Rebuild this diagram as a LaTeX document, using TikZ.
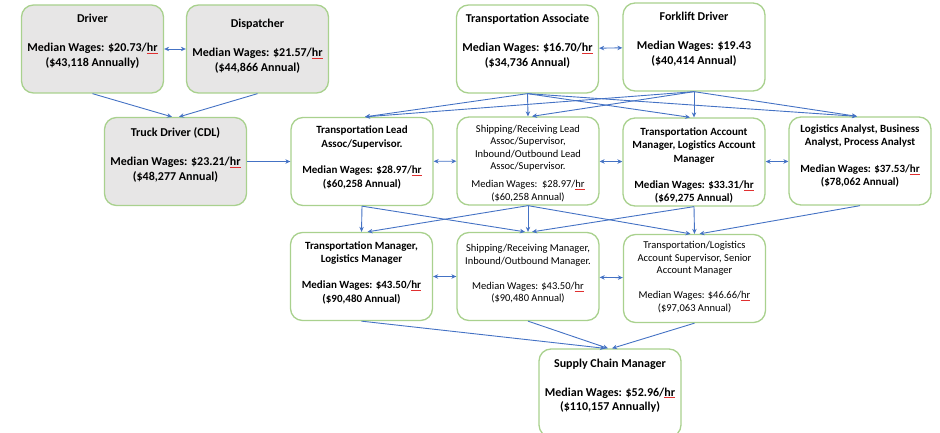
\documentclass[tikz,border=0pt]{standalone}
\usepackage{fontspec}
\setmainfont{Carlito}
\usetikzlibrary{arrows.meta}
\definecolor{boxgreen}{HTML}{A9D18E}
\definecolor{boxgray}{HTML}{E7E6E6}
\definecolor{linkblue}{HTML}{4472C4}
\definecolor{squig}{HTML}{E03030}
\newcommand\bigjob{\fontsize{12}{14.5}\selectfont\bfseries}
\newcommand\midjob{\fontsize{11}{13.3}\selectfont\bfseries}
\newcommand\smalljob{\fontsize{10.5}{12.5}\selectfont}
\newcommand\jobtext[2]{\parbox[c][88pt][t]{142pt}{\centering\rule{0pt}{#1}#2}}
\newcommand\hrmark{\sbox0{hr}\rlap{\textcolor{squig}{\rule[-2pt]{\wd0}{0.6pt}}}\usebox0}
\begin{document}
\begin{tikzpicture}[x=1pt,y=-1pt,
  job/.style={draw=boxgreen, line width=1.3pt, rounded corners=12pt, fill=white, inner sep=0pt, font=\midjob},
  grayjob/.style={job, fill=boxgray},
  link/.style={draw=linkblue, line width=0.9pt, -{Stealth[length=5pt,width=4.5pt]}},
  twoway/.style={link, {Stealth[length=5pt,width=4.5pt]}-{Stealth[length=5pt,width=4.5pt]}}]
\useasboundingbox (0,0) rectangle (940,433);
\node[grayjob, font=\bigjob] (jid0) at (92.5,49){\jobtext{18pt}{Driver\\[14.5pt]Median Wages: \$20.73/\hrmark\\(\$43,118 Annually)}};
\node[grayjob, font=\bigjob] (jid1) at (257.5,49){\jobtext{23pt}{Dispatcher\\[14.5pt]Median Wages: \$21.57/\hrmark\\(\$44,866 Annual)}};
\node[grayjob, font=\bigjob] (jid2) at (175.5,161.5){\jobtext{19pt}{Truck Driver (CDL)\\[14.5pt]Median Wages: \$23.21/\hrmark\\(\$48,277 Annual)}};
\draw[twoway](jid0) -- (jid1);
\draw[link](jid0.south) -- ([xshift=-3.5pt]jid2.north);
\draw[link](jid1.south) -- ([xshift=3.5pt]jid2.north);
\node[job, font=\bigjob] (jid3) at (527.5,49){\jobtext{18pt}{Transportation Associate\\[14.5pt]Median Wages: \$16.70/\hrmark\\(\$34,736 Annual)}};
\node[job, font=\bigjob] (jid4) at (694,47){\jobtext{18pt}{Forklift Driver\\[14.5pt]Median Wages: \$19.43\\(\$40,414 Annual)}};
\draw[twoway](jid3) -- (jid4);
\node[job] (jid5) at (362,161.5){\jobtext{16.5pt}{Transportation Lead\\Assoc/Supervisor.\\[13.3pt]Median Wages: \$28.97/\hrmark\\(\$60,258 Annual)}};
\node[job, font=\smalljob] (jid6) at (528,161){\jobtext{15.3pt}{Shipping/Receiving Lead\\Assoc/Supervisor,\\Inbound/Outbound Lead\\Assoc/Supervisor.\\[5.5pt]Median Wages:~~\$28.97/\hrmark\\(\$60,258 Annual)}};
\node[job] (jid7) at (694,162){\jobtext{17.5pt}{Transportation Account\\Manager, Logistics Account\\Manager\\[13.3pt]Median Wages: \$33.31/\hrmark\\(\$69,275 Annual)}};
\node[job] (jid8) at (860,161){\jobtext{15.5pt}{Logistics Analyst, Business\\Analyst, Process Analyst\\[13.3pt]Median Wages: \$37.53/\hrmark\\(\$78,062 Annual)}};
\draw[link](jid2) -- (jid5);
\draw[twoway](jid5) -- (jid6);
\draw[twoway](jid6) -- (jid7);
\draw[twoway](jid7) -- (jid8);
\draw[link](jid3.south) -- ([xshift=3pt]jid5.north);
\draw[link](jid3.south) -- (jid6.north);
\draw[link](jid3.south) -- ([xshift=-4pt]jid7.north);
\draw[link](jid3.south) -- ([xshift=-3pt]jid8.north);
\draw[link](jid4.south) -- ([xshift=3pt]jid5.north);
\draw[link](jid4.south) -- ([xshift=4pt]jid6.north);
\draw[link](jid4.south) -- (jid7.north);
\draw[link](jid4.south) -- ([xshift=-3pt]jid8.north);
\node[job] (jid9) at (361.5,276.5){\jobtext{16.5pt}{Transportation Manager,\\Logistics Manager\\[13.3pt]Median Wages: \$43.50/\hrmark\\(\$90,480 Annual)}};
\node[job, font=\smalljob] (jid10) at (528,276.5){\jobtext{19.3pt}{Shipping/Receiving Manager,\\Inbound/Outbound Manager.\\[12.5pt]Median Wages: \$43.50/\hrmark\\(\$90,480 Annual)}};
\node[job, font=\smalljob] (jid11) at (694.5,278.5){\jobtext{14.3pt}{Transportation/Logistics\\Account Supervisor, Senior\\Account Manager\\[12.5pt]Median Wages: \$46.66/\hrmark\\(\$97,063 Annual)}};
\draw[twoway](jid9) -- (jid10);
\draw[twoway](jid10) -- (jid11);
\draw[link](jid5.south) -- (jid9.north);
\draw[link](jid5.south) -- ([xshift=-3pt]jid10.north);
\draw[link](jid6.south) -- ([xshift=6pt]jid9.north);
\draw[link](jid6.south) -- (jid10.north);
\draw[link](jid6.south) -- ([xshift=-4pt]jid11.north);
\draw[link](jid7.south) -- ([xshift=4pt]jid10.north);
\draw[link](jid7.south) -- (jid11.north);
\draw[link](jid8.south) -- ([xshift=5pt]jid11.north);
\node[job, font=\bigjob] (jid12) at (610,393){\jobtext{18pt}{Supply Chain Manager\\[14.5pt]Median Wages: \$52.96/\hrmark\\(\$110,157 Annually)}};
\draw[link](jid9.south) -- ([xshift=-5pt]jid12.north);
\draw[link](jid10.south) -- ([xshift=-2pt]jid12.north);
\draw[link](jid11.south) -- ([xshift=2pt]jid12.north);
\end{tikzpicture}
\end{document}
